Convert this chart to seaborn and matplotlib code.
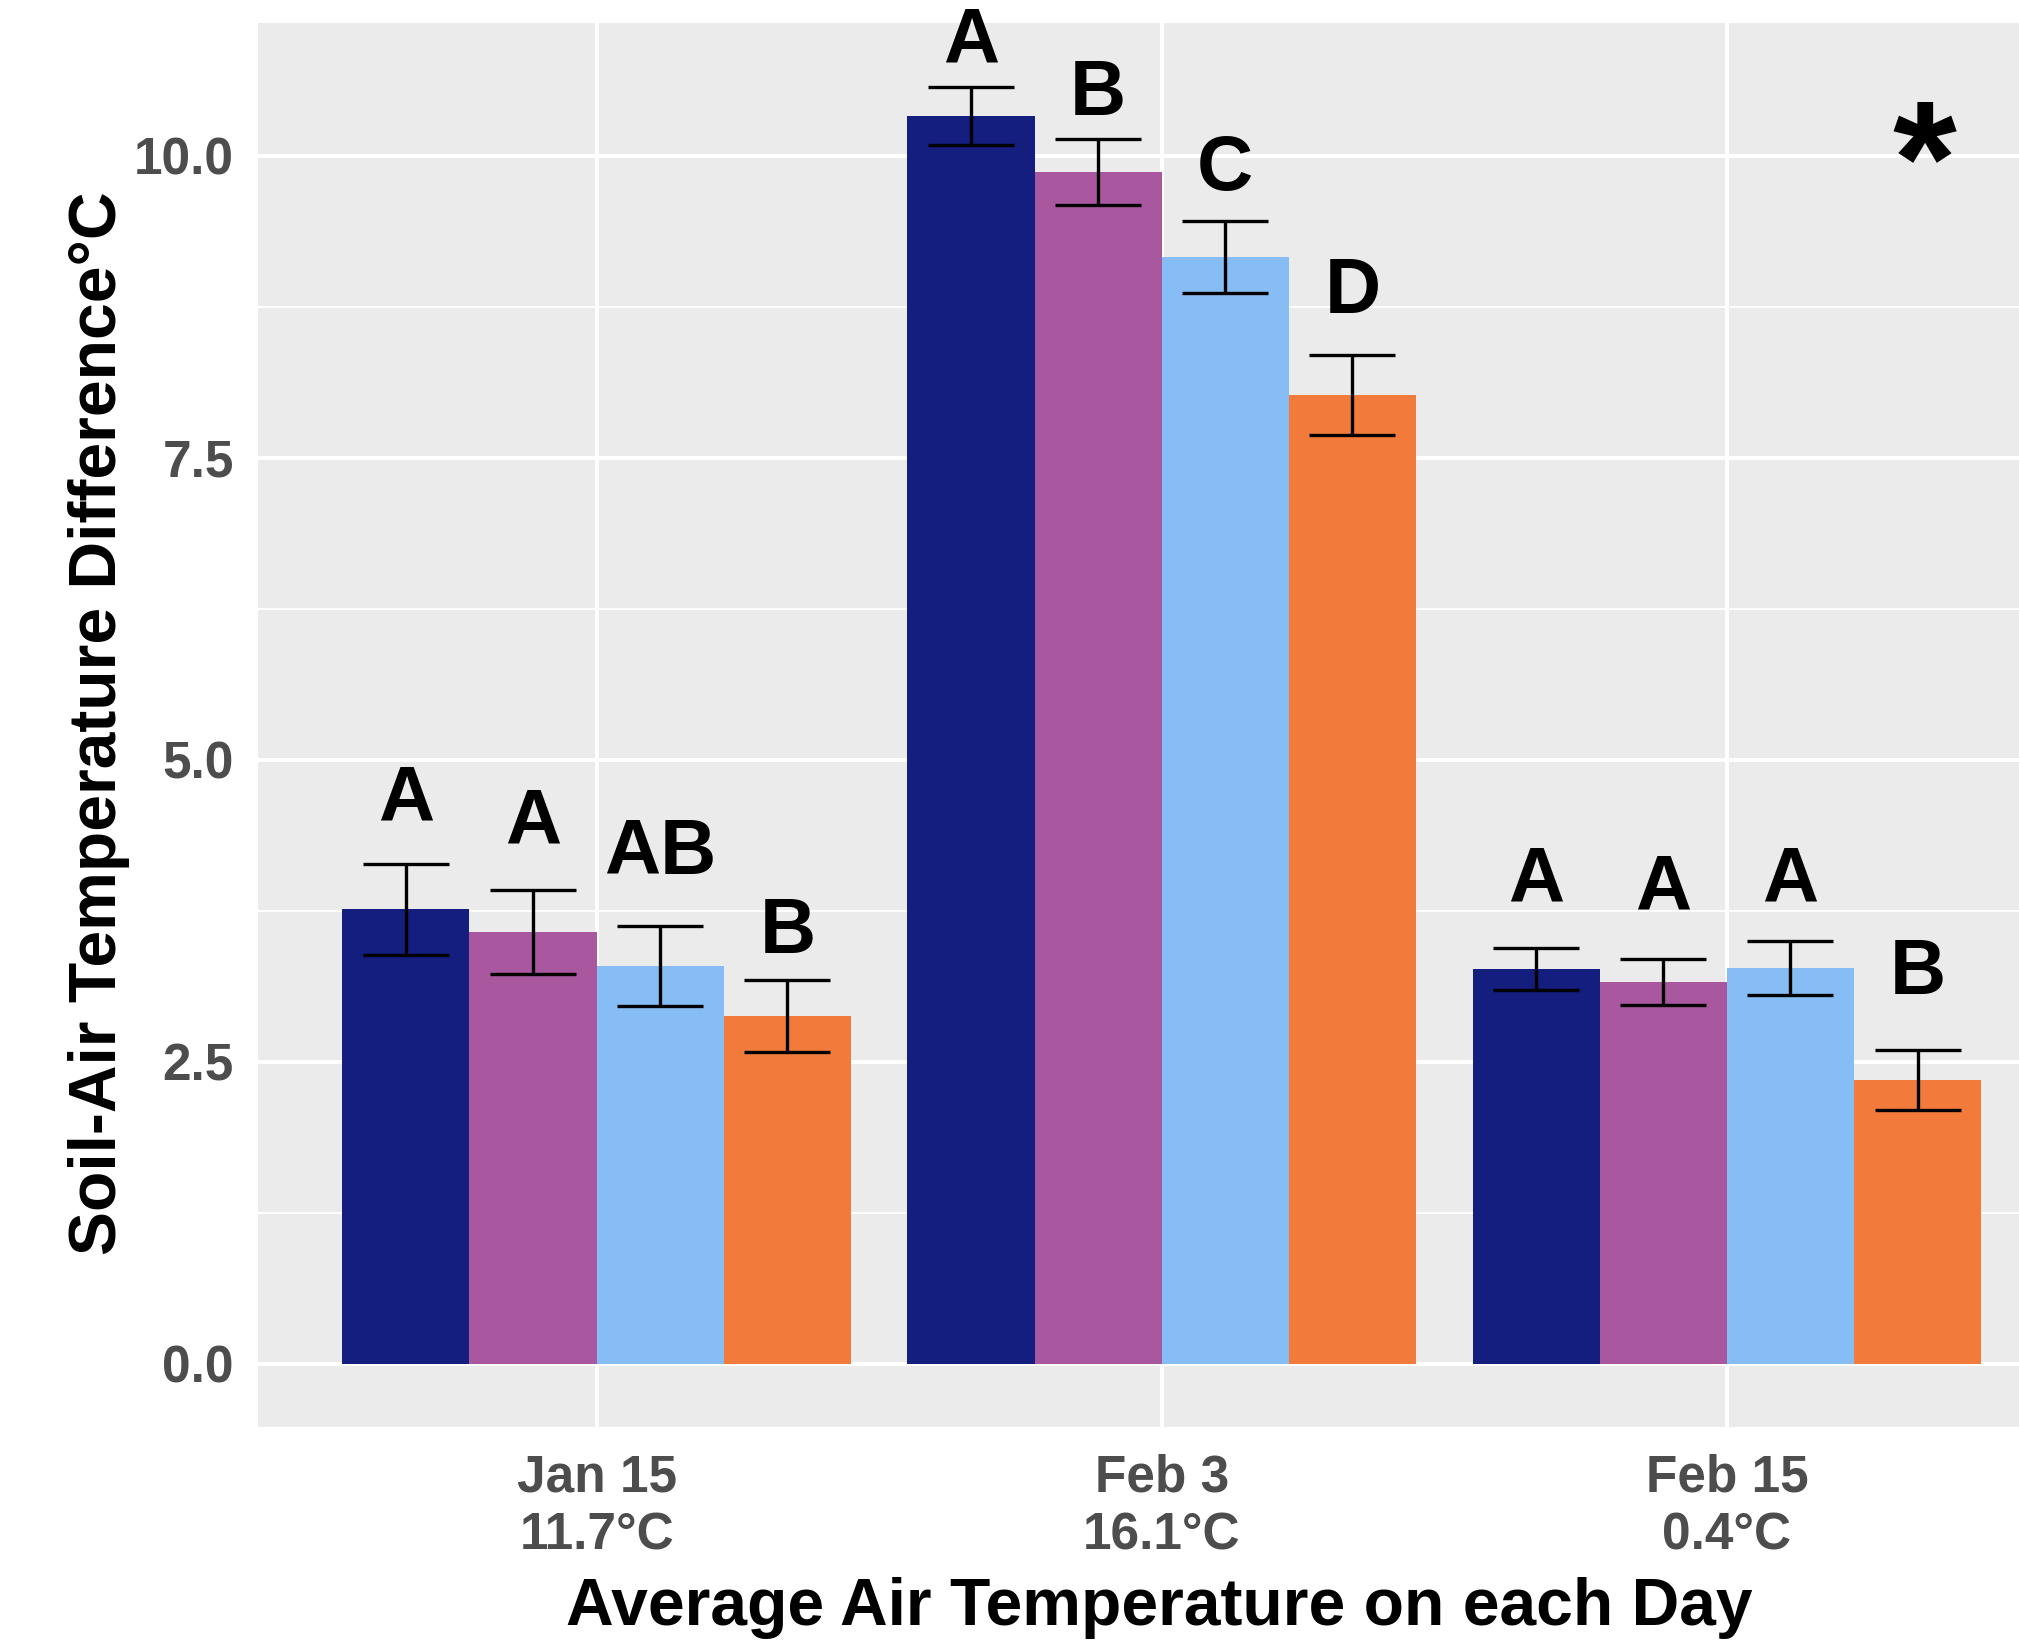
import matplotlib
matplotlib.use("Agg")
import matplotlib.pyplot as plt
import seaborn as sns
import pandas as pd
import numpy as np

# ---- data ----
days = ["Jan 15\n11.7°C", "Feb 3\n16.1°C", "Feb 15\n0.4°C"]
treatments = ["T1", "T2", "T3", "T4"]
colors = ["#131E7E", "#A9579F", "#86BDF4", "#F27A3A"]

mean_jan15 = [3.76, 3.575, 3.29, 2.88]
mean_feb3 = [10.33, 9.865, 9.16, 8.02]
mean_feb15 = [3.265, 3.16, 3.275, 2.35]

se_jan15 = [0.38, 0.345, 0.33, 0.30]
se_feb3 = [0.24, 0.275, 0.30, 0.33]
se_feb15 = [0.175, 0.19, 0.225, 0.25]

letters_jan15 = ["A", "A", "AB", "B"]
letters_feb3 = ["A", "B", "C", "D"]
letters_feb15 = ["A", "A", "A", "B"]

letter_y_jan15 = [4.50, 4.31, 4.05, 3.40]
letter_y_feb3 = [10.77, 10.34, 9.72, 8.70]
letter_y_feb15 = [3.83, 3.76, 3.83, 3.06]

means = [mean_jan15, mean_feb3, mean_feb15]
ses = [se_jan15, se_feb3, se_feb15]
letters = [letters_jan15, letters_feb3, letters_feb15]
letter_ys = [letter_y_jan15, letter_y_feb3, letter_y_feb15]

rows = []
for d, day in enumerate(days):
    for t, tr in enumerate(treatments):
        rows.append({"day": day, "treatment": tr, "value": means[d][t],
                     "se": ses[d][t], "letter": letters[d][t], "ly": letter_ys[d][t]})
df = pd.DataFrame(rows)

# ---- style ----
sns.set_theme(style="darkgrid")
plt.rcParams["font.family"] = ["Liberation Sans", "DejaVu Sans"]
plt.rcParams["font.weight"] = "bold"

fig = plt.figure(figsize=(20.19, 16.43), dpi=100, facecolor="white")
ax = fig.add_axes([200 / 1568, 1 - 1108 / 1276, 1 - 200 / 1568, (1108 - 18) / 1276])
ax.set_facecolor("#EBEBEB")

sns.barplot(data=df, x="day", y="value", hue="treatment", order=days,
            hue_order=treatments, palette=colors, width=0.9, gap=0,
            saturation=1, errorbar=None, linewidth=0, legend=False, ax=ax)

# bar centres from the drawn patches
patches = [p for p in ax.patches if p.get_height() > 0]
patches = sorted(patches, key=lambda p: p.get_x())
xs = [p.get_x() + p.get_width() / 2 for p in patches]

ax.errorbar(xs, df["value"], yerr=df["se"], fmt="none", ecolor="black",
            elinewidth=2.4, capsize=31, capthick=2.4, zorder=5)

for x, (_, r) in zip(xs, df.iterrows()):
    ax.text(x, r["ly"], r["letter"], ha="center", va="baseline",
            fontsize=56, fontweight="bold", color="black", zorder=6)

ax.text(2.35, 9.52, "*", ha="center", va="baseline", fontsize=118,
        fontweight="bold", color="black")

# axes
ax.set_ylim(-0.522, 11.098)
ax.set_xlim(-0.6, 2.517)
ax.set_yticks([0, 2.5, 5.0, 7.5, 10.0])
ax.set_yticklabels(["0.0", "2.5", "5.0", "7.5", "10.0"])
ax.set_yticks([1.25, 3.75, 6.25, 8.75], minor=True)
ax.grid(which="major", color="white", linewidth=2.8)
ax.grid(which="minor", axis="y", color="white", linewidth=1.4)
ax.grid(which="minor", axis="x", visible=False)
ax.set_axisbelow(True)
for s in ax.spines.values():
    s.set_visible(False)

ax.tick_params(axis="both", which="major", length=7, width=2, color="#333333",
               labelsize=37, labelcolor="#4D4D4D", direction="out")
ax.tick_params(axis="y", which="minor", length=0)
ax.tick_params(axis="x", pad=12)
ax.tick_params(axis="y", pad=10)
for lab in ax.get_xticklabels() + ax.get_yticklabels():
    lab.set_fontweight("bold")
for lab in ax.get_xticklabels():
    lab.set_linespacing(1.25)

ax.set_xlabel("")
ax.set_ylabel("")
fig.text(900 / 1568, 1 - 1262 / 1276, "Average Air Temperature on each Day",
         ha="center", va="baseline", fontsize=47.5, fontweight="bold", color="black")
fig.text(77 / 1568, 1 - 562 / 1276, "Soil-Air Temperature Difference°C",
         ha="center", va="center", rotation=90, fontsize=47.5, fontweight="bold",
         color="black")

fig.savefig("out.png", dpi=100, facecolor="white")
